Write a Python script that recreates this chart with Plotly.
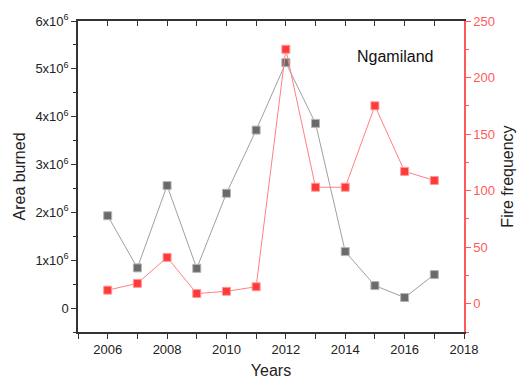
import plotly.graph_objects as go

years = [2006, 2007, 2008, 2009, 2010, 2011, 2012, 2013, 2014, 2015, 2016, 2017]
area_burned = [1.93e6, 0.84e6, 2.56e6, 0.83e6, 2.40e6, 3.72e6, 5.13e6, 3.86e6, 1.18e6, 0.47e6, 0.22e6, 0.70e6]
fire_frequency = [12, 18, 41, 9, 11, 15, 225, 103, 103, 175, 117, 109]

area_ticks = [0, 1e6, 2e6, 3e6, 4e6, 5e6, 6e6]
area_tick_text = ["0"] + [f"{i}x10<sup>6</sup>" for i in range(1, 7)]
freq_ticks = [0, 50, 100, 150, 200, 250]
year_ticks = [2006, 2008, 2010, 2012, 2014, 2016, 2018]

FONT = "Liberation Sans, Arial, sans-serif"
AXIS = "#333333"
RED = "#ff3a3a"
RED_AXIS = "#ff5a5a"

fig = go.Figure()

fig.add_trace(go.Scatter(
    x=years, y=area_burned, mode="lines+markers", name="Area burned",
    line=dict(color="#a0a0a0", width=1),
    marker=dict(symbol="square", size=8, color="#6a6a6a", line=dict(color="#b5b5b5", width=1)),
    xaxis="x", yaxis="y",
))
fig.add_trace(go.Scatter(
    x=years, y=fire_frequency, mode="lines+markers", name="Fire frequency",
    line=dict(color="#ff8080", width=1),
    marker=dict(symbol="square", size=8, color=RED, line=dict(color="#ff9a9a", width=1)),
    xaxis="x", yaxis="y2",
))
# empty trace to carry the top axis with inward ticks
fig.add_trace(go.Scatter(x=[], y=[], xaxis="x2", yaxis="y", showlegend=False, hoverinfo="skip"))

fig.update_layout(
    width=529, height=390,
    margin=dict(l=78, r=65, t=19, b=58),
    paper_bgcolor="white", plot_bgcolor="white",
    showlegend=False,
    font=dict(family=FONT, size=13, color=AXIS),
    xaxis=dict(
        range=[2005, 2018], tickvals=year_ticks, ticks="outside", ticklen=5,
        tickcolor=AXIS, showline=True, linecolor=AXIS, linewidth=1.5,
        showgrid=False, zeroline=False,
        minor=dict(dtick=1, tick0=2005, ticks="outside", ticklen=5, tickcolor=AXIS),
        tickfont=dict(size=13, family=FONT, color="#222222"),
        title=dict(text="Years", font=dict(size=16, family=FONT, color="#222222"), standoff=8),
    ),
    xaxis2=dict(
        range=[2005, 2018], overlaying="x", side="top", anchor="y",
        tickvals=year_ticks, ticks="inside", ticklen=5, tickcolor=AXIS,
        showticklabels=False, showline=True, linecolor=AXIS, linewidth=1.5,
        showgrid=False, zeroline=False,
        minor=dict(dtick=1, tick0=2005, ticks="inside", ticklen=5, tickcolor=AXIS),
    ),
    yaxis=dict(
        range=[-0.5e6, 6e6], tickvals=area_ticks, ticktext=area_tick_text,
        ticks="outside", ticklen=5, tickcolor=AXIS,
        showline=True, linecolor=AXIS, linewidth=1.5, showgrid=False, zeroline=False,
        minor=dict(dtick=0.5e6, tick0=0, ticks="outside", ticklen=3, tickcolor=AXIS),
        tickfont=dict(size=13, family=FONT, color="#222222"),
        title=dict(text="Area burned", font=dict(size=16, family=FONT, color="#222222"), standoff=6),
    ),
    yaxis2=dict(
        range=[-25, 250], tickvals=freq_ticks, overlaying="y", side="right", anchor="x",
        ticks="outside", ticklen=5, tickcolor=RED_AXIS,
        showline=True, linecolor=RED_AXIS, linewidth=1.5, showgrid=False, zeroline=False,
        minor=dict(dtick=25, tick0=0, ticks="outside", ticklen=3, tickcolor=RED_AXIS),
        tickfont=dict(size=13, family=FONT, color=RED_AXIS),
        title=dict(text="Fire frequency", font=dict(size=16, family=FONT, color="#222222"), standoff=8),
    ),
    annotations=[dict(
        text="Ngamiland", x=2015.67, y=5.26e6, xref="x", yref="y",
        showarrow=False, font=dict(size=16, family=FONT, color="#111111"),
    )],
)

fig.write_html("out.html")
